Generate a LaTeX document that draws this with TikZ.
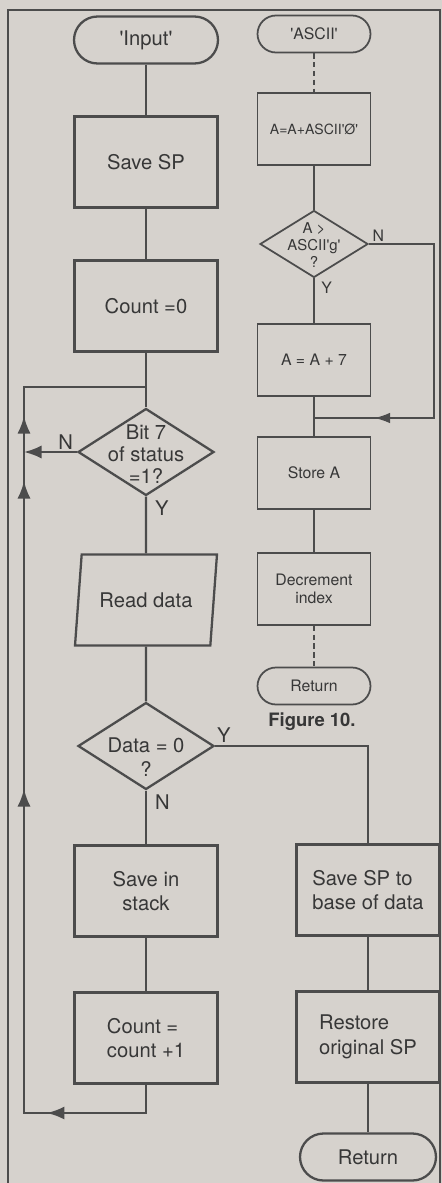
\documentclass[tikz,border=0pt]{standalone}
\usepackage{fontspec}
\setmainfont{TeX Gyre Heros}
\usepackage{tikz}
\usetikzlibrary{arrows.meta, positioning, shapes.geometric, decorations.markings}

\definecolor{paper}{RGB}{214,210,205}
\definecolor{ink}{RGB}{76,76,76}
\definecolor{txt}{RGB}{55,55,55}
\newcommand{\qt}[1]{\textquotesingle#1\textquotesingle}

\tikzset{
  bigtext/.style={font=\fontsize{11.5}{14}\selectfont, text=txt},
  smalltext/.style={font=\fontsize{9}{10.5}\selectfont, text=txt},
  term/.style={rectangle, rounded corners=0.47cm, draw=ink, line width=1.3pt,
    minimum width=2.88cm, minimum height=0.94cm, bigtext},
  termsm/.style={rectangle, rounded corners=0.37cm, draw=ink, line width=1pt,
    minimum width=2.26cm, minimum height=0.74cm, smalltext},
  proc/.style={rectangle, draw=ink, line width=1.3pt, align=center,
    minimum width=2.86cm, minimum height=1.82cm, bigtext},
  procsm/.style={rectangle, draw=ink, line width=1pt, align=center,
    minimum width=2.26cm, minimum height=1.44cm, smalltext},
  decision/.style={diamond, draw=ink, line width=1.3pt, inner sep=0pt,
    minimum width=2.72cm, minimum height=1.74cm},
  decisionsm/.style={diamond, draw=ink, line width=1pt, inner sep=0pt,
    minimum width=2.16cm, minimum height=1.34cm},
  iobox/.style={trapezium, trapezium left angle=76, trapezium right angle=104,
    trapezium stretches body, draw=ink, line width=1.3pt,
    minimum width=2.84cm, minimum height=1.82cm, bigtext},
  line/.style={draw=ink, line width=1.3pt},
  linesm/.style={draw=ink, line width=1pt},
  dashline/.style={linesm, dash pattern=on 3pt off 2pt},
  yn/.style={bigtext, inner sep=1pt},
  ynsm/.style={smalltext, inner sep=1pt},
  looparrows/.style={postaction={decorate}, decoration={markings,
    mark=at position 2.55cm with {\arrow{Latex[length=10pt,width=7.5pt]}},
    mark=at position 9.49cm with {\arrow{Latex[length=10pt,width=7.5pt]}},
    mark=at position 15.65cm with {\arrow{Latex[length=10pt,width=7.5pt]}},
    mark=at position 16.95cm with {\arrow{Latex[length=10pt,width=7.5pt]}}}},
  backarrow/.style={postaction={decorate}, decoration={markings,
    mark=at position 5.98cm with {\arrow{Latex[length=9pt,width=6pt]}}}}
}

\begin{document}
\begin{tikzpicture}[x=0.02cm, y=-0.02cm]
  % Paper and frame
  \fill[paper] (0,0) rectangle (442,1183);
  \useasboundingbox (0,0) rectangle (442,1183);
  \draw[ink, line width=0.8pt] (8,1183) -- (8,10) -- (440,10) -- (440,1183);

  % Input routine
  \node[term] (input) at (146,40) {\qt{Input}};
  \node[proc] (savesp) at (146,162) {Save SP};
  \node[proc] (cnt0) at (146,306) {Count =0};
  \node[decision] (bit7) at (146,452) {};
  \node[bigtext, align=center, font=\fontsize{11.5}{12.5}\selectfont] (bit7txt) at (146,454) {Bit 7\\of status\\=1?};
  \node[iobox] (readdata) at (146,600) {Read data};
  \node[decision] (data0) at (146,746) {};
  \node[bigtext, align=center] (data0txt) at (146,757) {Data = 0\\?};
  \node[proc] (savestk) at (146,891) {Save in\\stack};
  \node[proc, align=left] (cnt1) at (146,1038) {Count =\\count +1};

  \node[proc, align=left] (sbase) at (368,890) {Save SP to\\base of data};
  \node[proc, align=left] (restore) at (368,1037) {Restore\\original SP};
  \node[term, minimum width=2.72cm] (retb) at (368,1157) {Return};

  % Loop corners
  \coordinate (lpbot) at (24,1113);
  \coordinate (lptop) at (24,387);

  \draw[line] (input) -- (savesp);
  \draw[line] (savesp) -- (cnt0);
  \draw[line] (cnt0) -- (bit7);
  \draw[line] (bit7) -- (readdata);
  \draw[line] (readdata) -- (data0);
  \draw[line] (data0) -- (savestk);
  \draw[line] (savestk) -- (cnt1);
  \draw[line, looparrows] (cnt1.south) -- (cnt1.south |- lpbot) -- (lpbot) -- (lptop) -- (cnt0.south |- lptop);
  \draw[line, -{Latex[length=10pt,width=7.5pt]}] (bit7.west) -- (bit7.west -| lptop);
  \draw[line] (data0.east) -| (sbase.north);
  \draw[line] (sbase) -- (restore);
  \draw[line] (restore) -- (retb);

  \node[yn, above left=0pt and 1pt of bit7.west] (nbit7) {N};
  \node[yn, below right=1pt and 4pt of bit7.south] (ybit7) {Y};
  \node[yn, above right=1pt and 0pt of data0.east] (ydata0) {Y};
  \node[yn, below right=1pt and 4pt of data0.south] (ndata0) {N};

  % ASCII routine
  \node[termsm] (ascii) at (314,34) {\qt{ASCII}};
  \node[procsm, font=\fontsize{8}{10}\selectfont] (addzero) at (314,129) {A=A+ASCII\qt{Ø}};
  \node[decisionsm] (gtg) at (314,244) {};
  \node[smalltext, align=center, font=\fontsize{8.5}{9.6}\selectfont] (gtgtxt) at (314,245) {A >\\ASCII\qt{g}\\?};
  \node[procsm] (add7) at (314,360) {A = A + 7};
  \node[procsm] (storea) at (314,473) {Store A};
  \node[procsm, font=\fontsize{9}{10}\selectfont] (decidx) at (314,589) {Decrement\\index};
  \node[termsm] (reta) at (314,686) {Return};
  \node[font=\bfseries\fontsize{10.5}{12}\selectfont, text=txt] (figcap) at (312,722) {Figure 10.};

  \coordinate (nright) at (434,418);
  \coordinate (join) at (314,418);

  \draw[dashline] (ascii) -- (addzero);
  \draw[linesm] (addzero) -- (gtg);
  \draw[linesm] (gtg) -- (add7);
  \draw[linesm] (add7) -- (storea);
  \draw[linesm, backarrow] (gtg.east) -| (nright) -- (join);
  \draw[linesm] (storea) -- (decidx);
  \draw[dashline] (decidx) -- (reta);

  \node[ynsm, above right=0pt and 1pt of gtg.east] (ngtg) {N};
  \node[ynsm, below right=1pt and 3pt of gtg.south] (ygtg) {Y};
\end{tikzpicture}
\end{document}
